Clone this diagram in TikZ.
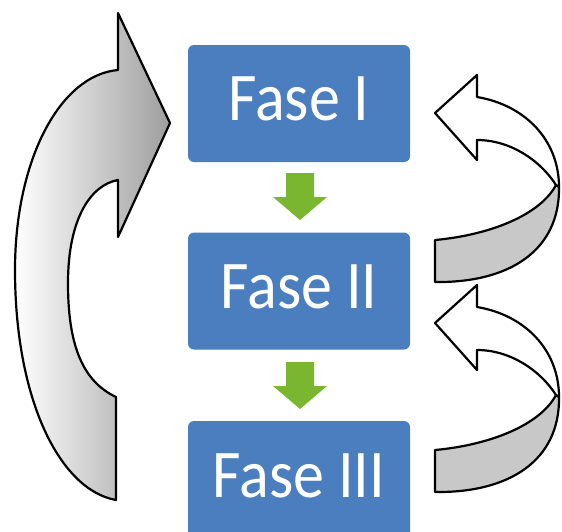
\documentclass[tikz,border=0pt]{standalone}
\usepackage{fontspec}
\setmainfont{Carlito}
\definecolor{faseblue}{RGB}{74,126,190}
\definecolor{fasegreen}{RGB}{122,182,48}
\definecolor{bandgray}{RGB}{200,200,200}
\tikzset{
  fasebox/.style={fill=faseblue, rounded corners=6pt, minimum width=222pt, minimum height=117pt, inner sep=0pt},
  fasetext/.style={text=white, font=\fontsize{62}{62}\selectfont, anchor=base, inner sep=0pt},
  downarrow/.style={fill=fasegreen, draw=none},
  outline/.style={draw=black, line width=2.2pt, line join=round},
}
\begin{document}
\begin{tikzpicture}[x=1pt,y=-1pt]
\useasboundingbox (0,0) rectangle (562,531);
\begin{scope}
\clip (0,0) rectangle (562,531);
\node[fasebox] (b1) at (299,103.5) {};
\node[fasebox] (b2) at (299,291) {};
\node[fasebox] (b3) at (299,479.5) {};
\end{scope}
\node[fasetext] (t1) at (299,120) {\scalebox{1}[1.1]{Fase I}};
\node[fasetext] (t2) at (299,308) {\scalebox{1}[1.1]{Fase II}};
\node[fasetext] (t3) at (299,497) {\scalebox{1}[1.1]{Fase III}};
% green down arrows
\foreach \dy/\nm in {0/g1,189/g2}{
  \fill[downarrow] (286,173+\dy) -- (314,173+\dy) -- (314,197+\dy) -- (327,197+\dy) -- (300,220+\dy) -- (273,197+\dy) -- (286,197+\dy) -- cycle;
}
% left big curved arrow
\path[outline, left color=white, right color=black!38]
  (116,500) -- (116,397)
  .. controls (80,380) and (68,340) .. (68,283)
  .. controls (68,220) and (90,185) .. (118,180)
  -- (118,237) -- (170,123) -- (118,13) -- (118,70)
  .. controls (60,75) and (15,160) .. (15,270)
  .. controls (15,400) and (60,490) .. cycle;
% right curved arrows
\foreach \dy in {0,210}{
  \begin{scope}[yshift=-\dy pt]
  \path[outline, fill=bandgray]
    (556,185) .. controls (540,215) and (490,235) .. (435,240)
    -- (435,282) .. controls (510,283) and (560,250) .. (559,187) -- cycle;
  \path[outline, fill=white]
    (435,113) -- (477,75) -- (477,97)
    .. controls (525,105) and (559,140) .. (559,187)
    -- (556,185)
    .. controls (540,160) and (510,140) .. (477,140)
    -- (477,160) -- cycle;
  \end{scope}
}
\end{tikzpicture}
\end{document}
